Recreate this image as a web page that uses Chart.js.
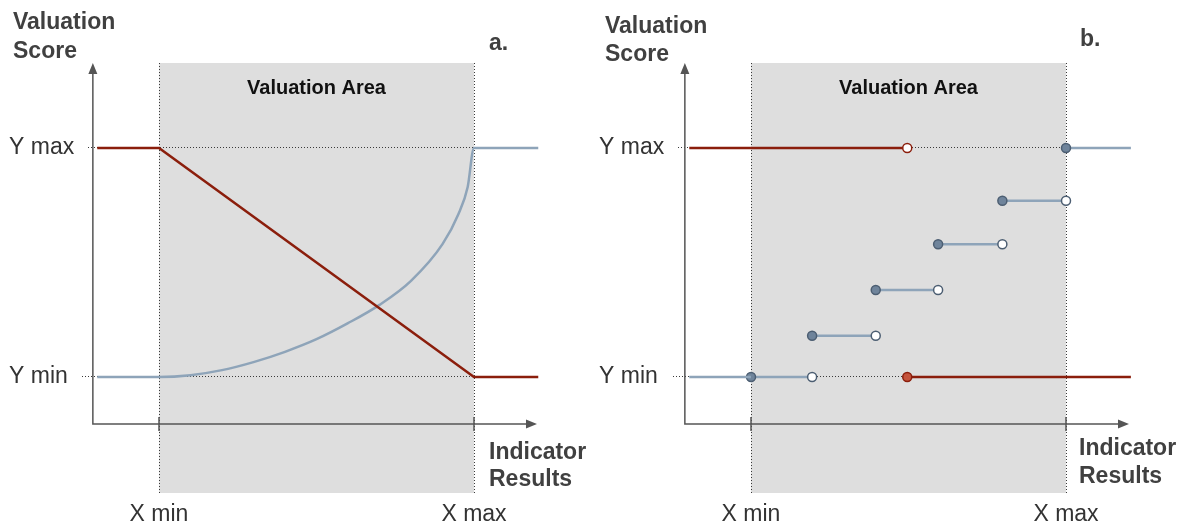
<!DOCTYPE html>
<html>
<head>
<meta charset="utf-8">
<script src="https://cdn.jsdelivr.net/npm/chart.js@4.4.0/dist/chart.umd.min.js"></script>
<style>
  html, body { margin: 0; padding: 0; background: #fff; }
  #wrap { position: relative; width: 1186px; height: 526px; }
  #panelA { position: absolute; left: 0; top: 0; }
  #panelB { position: absolute; left: 592px; top: 0; }
</style>
</head>
<body>
<div id="wrap">
  <canvas id="panelA" width="593" height="526"></canvas>
  <canvas id="panelB" width="593" height="526"></canvas>
</div>
<script>
/*
==============================================
    Data  (x: 0 = X min, 5 = X max | y: 0 = Y min, 1 = Y max)
==============================================
*/
const xTicks = [0, 5];
const xTickLabels = ['X min', 'X max'];
const yTicks = [0, 1];
const yTickLabels = ['Y min', 'Y max'];

// Panel a: linear decreasing score (red)
const linearX = [-0.98, 0, 5, 6.02];
const linearY = [1, 1, 0, 0];

// Panel a: curved increasing score (blue)
const curveX = [-0.98, 0, 0.5, 1.0, 1.5, 2.0, 2.5, 3.0, 3.5, 4.0, 4.5, 4.75, 4.9, 5.0, 6.02];
const curveY = [0, 0, 0.008, 0.03, 0.065, 0.11, 0.165, 0.235, 0.315, 0.42, 0.58, 0.71, 0.83, 1.0, 1.0];

// Panel b: threshold score (red)
const thresholdStartX = -0.98;
const thresholdX = 2.48;
const thresholdEndX = 6.03;

// Panel b: step score (blue)
const stepStartX = [0, 0.97, 1.98, 2.97, 3.99];
const stepEndX = [0.97, 1.98, 2.97, 3.99, 5];
const stepLevelY = [0, 0.18, 0.38, 0.58, 0.77];
const leadX = [-0.98, 0];
const tailX = [5, 6.03];

// Colours
const RED = '#8b1e0c';
const RED_FILL = '#c4533c';
const BLUE = '#8ea4b9';
const BLUE_FILL = '#6f849b';
const BLUE_EDGE = '#4c5e72';
const SHADE = '#dedede';
const AXIS = '#555555';
const FONT = '"Liberation Sans", Arial, sans-serif';

// Pixel layout of each panel (labels, axis extents)
const layoutA = {
    letter: 'a.', letterX: 489, letterY: 44,
    scoreX: 13, scoreY: [23, 52],
    resultsX: 489, resultsY: [453, 480],
    yLabelX: 9, dotMaxFrom: 88, dotMinFrom: 82, dotTo: 5
};
const layoutB = {
    letter: 'b.', letterX: 488, letterY: 40,
    scoreX: 13, scoreY: [27, 55],
    resultsX: 487, resultsY: [449, 477],
    yLabelX: 7, dotMaxFrom: 86, dotMinFrom: 81, dotTo: 5.49
};

const toPoints = (xs, ys) => xs.map((x, i) => ({ x, y: ys[i] }));
const crisp = v => Math.round(v) + 0.5;

/*
==============================================
    Plugin: shaded area, axes, guides and labels
==============================================
*/
function diagramPlugin(lay) {
    return {
        id: 'diagram',
        beforeDatasetsDraw(chart) {
            const ctx = chart.ctx;
            const X = v => chart.scales.x.getPixelForValue(v);
            const Y = v => chart.scales.y.getPixelForValue(v);
            const x0 = X(xTicks[0]), x1 = X(xTicks[1]);
            const top = 63, bottom = 493, axisY = 424, axisX = X(-1.05), arrowX = X(6.0);

            ctx.save();
            // valuation area
            ctx.fillStyle = SHADE;
            ctx.fillRect(x0, top, x1 - x0, bottom - top);

            // dotted guides
            ctx.strokeStyle = '#3a3a3a';
            ctx.lineWidth = 1;
            ctx.setLineDash([1, 2]);
            ctx.beginPath();
            [x0, x1].forEach(x => { ctx.moveTo(crisp(x), top); ctx.lineTo(crisp(x), bottom); });
            ctx.moveTo(lay.dotMaxFrom, crisp(Y(1)) - 1); ctx.lineTo(X(lay.dotTo), crisp(Y(1)) - 1);
            ctx.moveTo(lay.dotMinFrom, crisp(Y(0)) - 1); ctx.lineTo(X(lay.dotTo), crisp(Y(0)) - 1);
            ctx.stroke();
            ctx.setLineDash([]);

            // axes with arrows
            ctx.strokeStyle = AXIS;
            ctx.fillStyle = AXIS;
            ctx.lineWidth = 1.5;
            ctx.beginPath();
            ctx.moveTo(axisX, top + 8); ctx.lineTo(axisX, axisY); ctx.lineTo(arrowX - 8, axisY);
            [x0, x1].forEach(x => { ctx.moveTo(x, axisY - 7); ctx.lineTo(x, axisY + 7); });
            ctx.stroke();
            ctx.beginPath();
            ctx.moveTo(axisX, top); ctx.lineTo(axisX - 4.5, top + 11); ctx.lineTo(axisX + 4.5, top + 11);
            ctx.closePath();
            ctx.moveTo(arrowX, axisY); ctx.lineTo(arrowX - 11, axisY - 4.5); ctx.lineTo(arrowX - 11, axisY + 4.5);
            ctx.closePath();
            ctx.fill();
            ctx.restore();
        },
        afterDraw(chart) {
            const ctx = chart.ctx;
            const X = v => chart.scales.x.getPixelForValue(v);
            const Y = v => chart.scales.y.getPixelForValue(v);
            ctx.save();
            ctx.textBaseline = 'middle';

            // tick labels
            ctx.font = '23px ' + FONT;
            ctx.fillStyle = '#333333';
            ctx.textAlign = 'left';
            yTicks.forEach((v, i) => ctx.fillText(yTickLabels[i], lay.yLabelX, Y(v)));
            ctx.textAlign = 'center';
            xTicks.forEach((v, i) => ctx.fillText(xTickLabels[i], X(v), 515));

            // axis titles and panel letter
            ctx.font = 'bold 23px ' + FONT;
            ctx.fillStyle = '#404040';
            ctx.textAlign = 'left';
            ctx.fillText('Valuation', lay.scoreX, lay.scoreY[0]);
            ctx.fillText('Score', lay.scoreX, lay.scoreY[1]);
            ctx.fillText('Indicator', lay.resultsX, lay.resultsY[0]);
            ctx.fillText('Results', lay.resultsX, lay.resultsY[1]);
            ctx.fillText(lay.letter, lay.letterX, lay.letterY);

            // area title
            ctx.font = 'bold 20px ' + FONT;
            ctx.fillStyle = '#111111';
            ctx.textAlign = 'center';
            ctx.fillText('Valuation Area', X((xTicks[0] + xTicks[1]) / 2), 88);
            ctx.restore();
        }
    };
}

/*
==============================================
    Shared chart options (hidden scales fill the canvas)
==============================================
*/
function baseOptions() {
    return {
        responsive: false,
        animation: false,
        events: [],
        layout: { padding: 0, autoPadding: false },
        plugins: { legend: { display: false }, tooltip: { enabled: false }, title: { display: false } },
        scales: {
            x: { type: 'linear', display: false, min: -2.524, max: 6.889 },
            y: { type: 'linear', display: false, min: -0.6507, max: 1.6463 }
        }
    };
}

/*
==============================================
    Panel a: continuous valuation functions
==============================================
*/
function renderPanelA() {
    const ctx = document.getElementById('panelA').getContext('2d');
    new Chart(ctx, {
        type: 'scatter',
        data: {
            datasets: [
                {
                    data: toPoints(linearX, linearY),
                    showLine: true, borderColor: RED, borderWidth: 2.5,
                    pointRadius: 0, tension: 0
                },
                {
                    data: toPoints(curveX, curveY),
                    showLine: true, borderColor: BLUE, borderWidth: 2.5,
                    pointRadius: 0, cubicInterpolationMode: 'monotone'
                }
            ]
        },
        options: baseOptions(),
        plugins: [diagramPlugin(layoutA)]
    });
}

/*
==============================================
    Panel b: discrete (step) valuation functions
==============================================
*/
function renderPanelB() {
    const ctx = document.getElementById('panelB').getContext('2d');

    const datasets = [
        // red: Y max until threshold (open), then Y min (closed)
        {
            data: [{ x: thresholdStartX, y: 1 }, { x: thresholdX, y: 1 }],
            borderColor: RED, pointRadius: [0, 4.5],
            pointBackgroundColor: '#ffffff', pointBorderColor: RED
        },
        {
            data: [{ x: thresholdX, y: 0 }, { x: thresholdEndX, y: 0 }],
            borderColor: RED, pointRadius: [4.5, 0],
            pointBackgroundColor: RED_FILL, pointBorderColor: RED
        },
        // blue lead-in and tail
        {
            data: leadX.map(x => ({ x, y: 0 })),
            borderColor: BLUE, pointRadius: 0
        },
        {
            data: tailX.map(x => ({ x, y: 1 })),
            borderColor: BLUE, pointRadius: [4.5, 0],
            pointBackgroundColor: BLUE_FILL, pointBorderColor: BLUE_EDGE
        }
    ];

    // blue steps: closed start, open end
    stepStartX.forEach((x, i) => {
        datasets.push({
            data: [{ x, y: stepLevelY[i] }, { x: stepEndX[i], y: stepLevelY[i] }],
            borderColor: BLUE, pointRadius: [4.5, 4.5],
            pointBackgroundColor: [BLUE_FILL, '#ffffff'], pointBorderColor: BLUE_EDGE
        });
    });

    datasets.forEach(ds => {
        ds.showLine = true;
        ds.borderWidth = 2.5;
        ds.pointBorderWidth = 1.5;
    });

    new Chart(ctx, {
        type: 'scatter',
        data: { datasets },
        options: baseOptions(),
        plugins: [diagramPlugin(layoutB)]
    });
}

renderPanelA();
renderPanelB();
</script>
</body>
</html>
